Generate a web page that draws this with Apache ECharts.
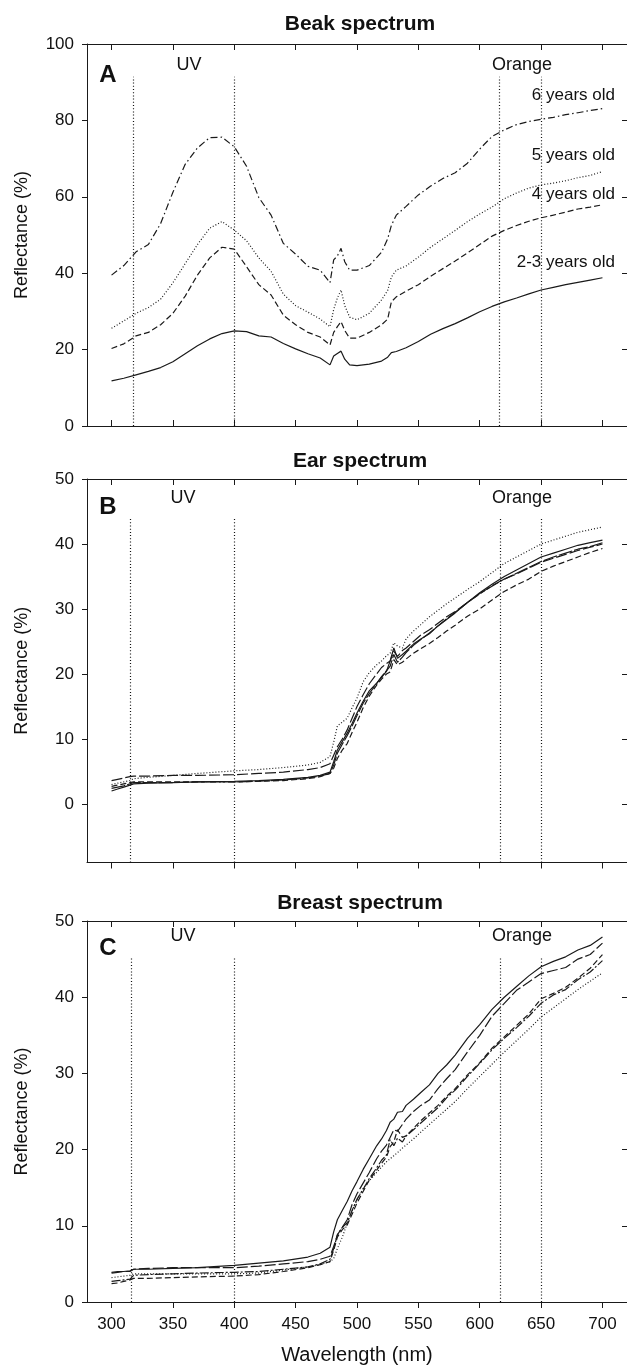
<!DOCTYPE html>
<html>
<head>
<meta charset="utf-8">
<script src="https://cdn.jsdelivr.net/npm/echarts@6/dist/echarts.min.js"></script>
<style>
html,body{margin:0;padding:0;background:#fff;}
#chart{width:627px;height:1368px;}
</style>
</head>
<body>
<div id="chart"></div>
<script>
// ---------- DATA ----------
const xTicks = [300, 350, 400, 450, 500, 550, 600, 650, 700];
const yTicksA = [0, 20, 40, 60, 80, 100];
const yTicksB = [0, 10, 20, 30, 40, 50];
const yTicksC = [0, 10, 20, 30, 40, 50];

// Panel A: beak spectrum
const nmA = [300,310,320,330,340,350,360,370,380,390,400,410,420,430,440,450,460,470,478,481,484,487,490,494,500,510,520,525,528,532,540,550,560,570,580,590,600,610,620,630,640,650,660,670,680,690,700];
const beak23 = [11.8,12.5,13.4,14.3,15.3,16.8,18.9,21.0,22.8,24.2,24.9,24.7,23.6,23.3,21.6,20.2,18.9,17.8,16.0,18.3,19.0,19.6,17.5,16.0,15.8,16.2,17.0,18.0,19.2,19.5,20.5,22.1,24.0,25.5,26.8,28.3,29.9,31.3,32.5,33.5,34.6,35.6,36.3,37.0,37.6,38.2,38.8];
const beak4 = [20.3,21.5,23.6,24.5,26.5,29.5,34.0,39.5,44.0,46.8,46.3,41.7,37.0,34.3,29.0,26.5,24.5,23.3,21.2,24.5,26.0,27.3,25.0,23.0,23.0,24.5,26.5,28.0,32.5,33.8,35.3,37.0,39.2,41.2,43.2,45.3,47.5,49.7,51.2,52.5,53.6,54.5,55.2,56.0,56.8,57.3,57.9];
const beak5 = [25.6,27.5,29.5,31.0,33.2,37.5,42.5,47.5,51.8,53.5,51.3,48.5,44.0,40.5,34.5,31.5,29.8,28.0,26.0,30.5,33.5,35.6,31.5,28.5,27.8,29.5,33.0,35.5,39.0,40.8,41.9,44.2,46.8,49.0,51.2,53.5,55.5,57.3,59.5,61.0,62.3,63.1,63.6,64.2,65.0,65.6,66.6];
const beak6 = [39.5,42.0,45.6,47.5,53.0,61.2,68.5,72.8,75.5,75.6,73.1,68.0,59.8,55.2,47.8,45.0,41.8,40.8,37.5,43.5,44.5,46.5,43.0,40.8,40.8,42.0,45.5,49.0,52.5,55.2,57.5,60.5,62.8,64.8,66.3,68.8,72.5,75.8,77.5,78.9,79.7,80.3,80.8,81.5,82.0,82.6,83.1];
const ageLabels = ['6 years old', '5 years old', '4 years old', '2-3 years old'];

// Panels B and C share a wavelength grid
const nmBC = [300,305,310,315,318,330,350,370,400,420,440,460,470,478,481,484,488,492,496,500,505,510,516,520,524,527,530,533,537,540,546,552,559,566,573,580,590,600,610,620,630,640,650,660,670,680,690,700];

// Panel B: ear spectrum
const earDot   = [3.0,3.2,3.4,3.6,3.9,4.1,4.4,4.7,5.1,5.3,5.6,6.0,6.4,7.3,9.5,12.0,12.6,13.2,14.8,16.3,18.8,20.2,21.4,22.0,22.8,23.2,24.8,24.3,24.0,25.4,26.6,27.6,28.8,29.8,30.8,31.7,33.0,34.2,35.6,37.0,38.0,39.0,40.0,40.6,41.2,41.8,42.2,42.6];
const earLong  = [3.6,3.8,4.0,4.2,4.3,4.3,4.4,4.4,4.5,4.7,4.9,5.3,5.6,6.2,7.5,8.8,10.0,11.4,13.2,15.0,16.8,18.5,20.0,21.0,21.6,22.0,23.5,22.7,23.6,24.0,25.0,26.0,26.8,27.8,28.8,29.6,31.0,32.3,33.6,34.6,35.4,36.3,37.2,37.8,38.4,39.0,39.5,40.0];
const earSolid = [2.0,2.3,2.6,2.9,3.1,3.2,3.3,3.4,3.5,3.6,3.8,4.1,4.4,4.9,6.5,8.3,9.6,10.9,12.4,14.0,15.8,17.4,18.6,19.5,20.4,22.0,24.0,22.4,23.0,23.5,24.6,25.4,26.2,27.4,28.4,29.4,31.0,32.5,33.8,35.0,36.0,37.0,38.0,38.6,39.2,39.8,40.2,40.6];
const earSolid2= [2.4,2.6,2.8,3.1,3.3,3.3,3.3,3.4,3.4,3.5,3.7,4.0,4.3,4.7,6.0,7.8,9.2,10.5,12.0,13.6,15.5,17.0,18.5,19.6,20.5,21.2,23.0,21.8,22.6,23.3,24.4,25.3,26.3,27.4,28.5,29.5,31.0,32.4,33.5,34.6,35.5,36.4,37.3,38.0,38.6,39.2,39.6,40.2];
const earShort = [2.7,2.9,3.1,3.3,3.4,3.4,3.4,3.4,3.4,3.5,3.6,3.9,4.2,4.7,5.5,7.0,8.3,9.3,11.0,12.6,14.8,16.6,18.3,19.2,20.0,20.3,22.2,21.4,21.8,22.3,23.2,23.9,24.7,25.6,26.6,27.5,28.9,30.0,31.4,32.7,33.7,34.6,35.8,36.6,37.3,38.0,38.7,39.3];

// Panel C: breast spectrum
const brSolid  = [3.9,4.0,4.0,4.1,4.3,4.3,4.4,4.5,4.8,5.1,5.4,5.9,6.4,7.2,9.2,10.8,12.0,13.2,14.6,15.8,17.4,18.8,20.5,21.4,22.5,23.6,24.0,24.9,25.0,25.8,26.6,27.5,28.5,30.0,31.1,32.4,34.6,36.4,38.4,40.0,41.4,42.8,44.0,44.7,45.3,46.2,46.8,47.9];
const brLong   = [3.8,3.9,4.0,4.0,4.3,4.4,4.5,4.5,4.5,4.7,5.0,5.3,5.6,6.0,7.3,8.8,9.8,10.8,12.8,14.2,15.6,17.0,18.8,19.8,20.6,21.6,22.6,22.4,23.3,24.0,25.0,25.8,26.5,28.0,29.3,30.5,32.8,35.0,37.5,39.2,40.9,42.0,43.1,43.5,43.9,45.0,45.6,47.1];
const brDashDot= [2.7,2.8,2.9,3.0,3.5,3.6,3.7,3.8,3.9,4.0,4.3,4.6,5.0,5.6,7.0,8.8,9.8,10.4,12.0,13.5,14.8,16.2,17.6,18.6,19.3,21.3,20.5,21.5,21.0,21.8,22.6,23.5,24.5,25.5,26.8,27.8,29.6,31.3,33.1,34.6,36.0,37.5,39.2,40.3,41.0,42.3,43.3,44.8];
const brShort  = [2.4,2.5,2.7,2.9,3.1,3.1,3.2,3.3,3.4,3.6,4.0,4.5,4.9,5.3,6.8,8.5,9.5,10.1,11.5,13.0,14.5,16.0,17.3,18.2,19.0,20.4,21.0,22.6,21.6,21.8,22.8,23.8,24.8,25.8,27.0,28.0,29.8,31.4,33.3,34.8,36.3,37.8,39.8,40.5,41.3,42.5,43.8,45.6];
const brDot    = [3.2,3.3,3.4,3.5,3.7,3.7,3.7,3.7,3.7,3.8,4.2,4.6,4.9,5.3,5.7,7.0,8.5,10.3,12.0,13.4,14.9,15.9,17.0,17.7,18.4,18.8,19.2,19.6,20.2,20.6,21.4,22.3,23.3,24.3,25.3,26.3,28.0,29.6,31.2,32.8,34.3,35.8,37.4,38.6,39.8,41.0,42.1,43.2];

// Reference band markers (nm) and their top values
const bandsA = [318, 400, 616, 650]; const bandTopA = 91.4;
const bandsB = [315, 400, 617, 650]; const bandTopB = 44.0;
const bandsC = [316, 400, 617, 650]; const bandTopC = 45.2;
const titles = ['Beak spectrum', 'Ear spectrum', 'Breast spectrum'];
const panelLetters = ['A', 'B', 'C'];

// ---------- CHART ----------
const FONT = "'Liberation Sans', Arial, Helvetica, sans-serif";
const INK = '#1a1a1a';
const pairs = (xs, ys) => xs.map((x, i) => [x, ys[i]]);

const grids = [
  {left: 87, top: 44, width: 545.6, height: 382},
  {left: 87, top: 479, width: 545.6, height: 383.5},
  {left: 87, top: 921, width: 545.6, height: 381}
];
const yRanges = [[0, 100, yTicksA], [-9, 50, yTicksB], [0, 50, yTicksC]];
const bottomTickInside = [true, false, false];

const xAxis = [], yAxis = [];
grids.forEach((g, i) => {
  xAxis.push({
    type: 'value', gridIndex: i, position: 'bottom', min: 280, max: 720,
    axisLine: {show: true, onZero: false, lineStyle: {color: INK, width: 1}},
    axisTick: {show: true, inside: bottomTickInside[i], length: 6, customValues: xTicks, lineStyle: {color: INK}},
    axisLabel: {show: i === 2, customValues: xTicks, margin: 14, fontFamily: FONT, fontSize: 17, color: '#111'},
    splitLine: {show: false},
    name: i === 2 ? 'Wavelength (nm)' : '', nameLocation: 'middle', nameGap: 43,
    nameTextStyle: {fontFamily: FONT, fontSize: 20, color: '#111'}
  });
  xAxis.push({
    type: 'value', gridIndex: i, position: 'top', min: 280, max: 720,
    axisLine: {show: true, onZero: false, lineStyle: {color: INK, width: 1}},
    axisTick: {show: true, inside: true, length: 6, customValues: xTicks, lineStyle: {color: INK}},
    axisLabel: {show: false}, splitLine: {show: false}
  });
  const r = yRanges[i];
  yAxis.push({
    type: 'value', gridIndex: i, position: 'left', min: r[0], max: r[1],
    axisLine: {show: true, onZero: false, lineStyle: {color: INK, width: 1}},
    axisTick: {show: true, inside: false, length: 5, customValues: r[2], lineStyle: {color: INK}},
    axisLabel: {show: true, customValues: r[2], margin: 13, fontFamily: FONT, fontSize: 17, color: '#111'},
    splitLine: {show: false},
    name: 'Reflectance (%)', nameLocation: 'middle', nameGap: 56,
    nameTextStyle: {fontFamily: FONT, fontSize: 18, color: '#111'}
  });
  yAxis.push({
    type: 'value', gridIndex: i, position: 'right', min: r[0], max: r[1],
    axisLine: {show: true, onZero: false, lineStyle: {color: INK, width: 1}},
    axisTick: {show: true, inside: true, length: 5, customValues: r[2], lineStyle: {color: INK}},
    axisLabel: {show: false}, splitLine: {show: false}
  });
});

function band(xs, top, bottom) {
  return {
    silent: true, symbol: ['none', 'none'], animation: false,
    label: {show: false},
    lineStyle: {color: '#111', width: 1.2, type: [1, 2.2]},
    data: xs.map(x => [{coord: [x, bottom]}, {coord: [x, top]}])
  };
}

function line(name, gi, xs, ys, type, extra) {
  return Object.assign({
    name, type: 'line', xAxisIndex: gi * 2, yAxisIndex: gi * 2,
    data: pairs(xs, ys), showSymbol: false, symbol: 'none', smooth: false,
    lineStyle: {color: INK, width: 1.2, type: type},
    silent: true, animation: false, z: 3
  }, extra || {});
}

const DASHDOT = [7, 3, 1.5, 3];
const DOT = [1, 2];
const DASH = [6, 3];
const LONG = [11, 3];

const series = [
  line('6 years old', 0, nmA, beak6, DASHDOT, {markLine: band(bandsA, bandTopA, 0)}),
  line('5 years old', 0, nmA, beak5, DOT),
  line('4 years old', 0, nmA, beak4, DASH),
  line('2-3 years old', 0, nmA, beak23, 'solid'),

  line('ear dotted', 1, nmBC, earDot, DOT, {markLine: band(bandsB, bandTopB, -9)}),
  line('ear long', 1, nmBC, earLong, LONG),
  line('ear solid', 1, nmBC, earSolid, 'solid'),
  line('ear solid 2', 1, nmBC, earSolid2, [14, 2]),
  line('ear short', 1, nmBC, earShort, DASH),

  line('breast solid', 2, nmBC, brSolid, 'solid', {markLine: band(bandsC, bandTopC, 0)}),
  line('breast long', 2, nmBC, brLong, LONG),
  line('breast dashdot', 2, nmBC, brDashDot, [9, 2, 2, 2]),
  line('breast short', 2, nmBC, brShort, DASH),
  line('breast dotted', 2, nmBC, brDot, DOT)
];

function txt(x, y, text, size, bold, align) {
  return {
    type: 'text', x: x, y: y, silent: true, z: 10,
    style: {text: text, fontFamily: FONT, fontSize: size, fontWeight: bold ? 'bold' : 'normal',
            fill: '#111', textAlign: align || 'center', textVerticalAlign: 'middle'}
  };
}

const titleY = [24, 461, 903];
const letterY = [75, 507, 948];
const bandLabelY = [65, 498, 936];
const graphic = [];
for (let i = 0; i < 3; i++) {
  graphic.push(txt(360, titleY[i], titles[i], 21, true));
  graphic.push(txt(108, letterY[i], panelLetters[i], 24, true));
  graphic.push(txt(i === 0 ? 189 : 183, bandLabelY[i], 'UV', 18, false));
  graphic.push(txt(522, bandLabelY[i], 'Orange', 18, false));
}
const ageY = [95, 155, 194, 262];
ageLabels.forEach((t, k) => graphic.push(txt(615, ageY[k], t, 17, false, 'right')));

const chart = echarts.init(document.getElementById('chart'), null, {renderer: 'canvas'});
chart.setOption({
  animation: false,
  backgroundColor: '#fff',
  grid: grids,
  xAxis: xAxis,
  yAxis: yAxis,
  series: series,
  graphic: graphic
});
</script>
</body>
</html>
